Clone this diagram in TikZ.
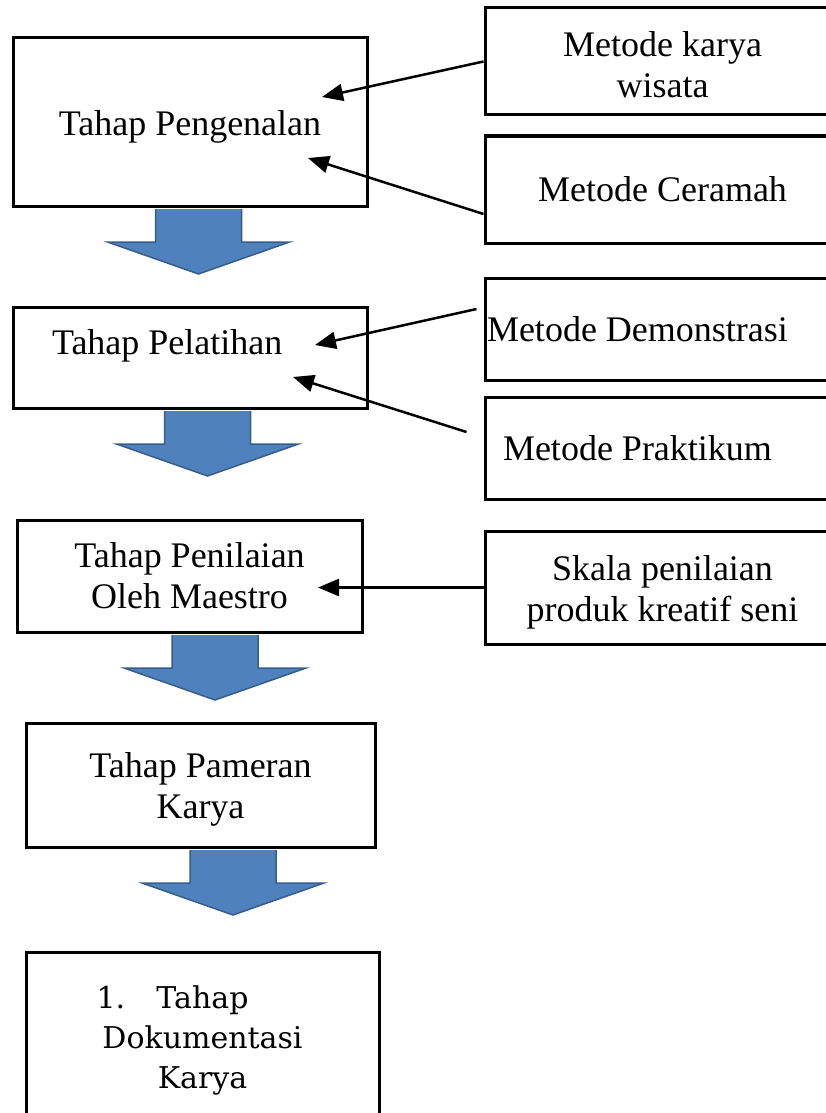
\documentclass[tikz,border=0pt]{standalone}
\usepackage{fontspec}
\setmainfont{Liberation Serif}
\newfontfamily\docfont{DejaVu Serif}
\usepackage{tikz}
\usetikzlibrary{positioning,arrows.meta,calc}
\usepackage{xcolor}
\definecolor{arrowblue}{HTML}{4F81BD}
\definecolor{arrowedge}{HTML}{385D8A}

\begin{document}
\begin{tikzpicture}[x=1pt,y=-1pt,>={Triangle[length=21pt,width=17pt]},
  stage/.style={draw,line width=3pt,inner sep=0pt,align=center,font=\fontsize{36}{41}\selectfont},
  link/.style={->,line width=2.5pt},
  downarrow/.pic={\draw[fill=arrowblue,draw=arrowedge,line width=1.5pt] (43,0) -- (43,33) -- (91,33) -- (0,65) -- (-91,33) -- (-43,33) -- (-43,0);}]
\useasboundingbox (0,0) rectangle (826,1113);
\clip (0,0) rectangle (826,1113);
% tahapan (kiri)
\node[stage,minimum width=354pt,minimum height=168pt,text height=34pt] (pengenalan) at (190,122) {Tahap Pengenalan};
\node[stage,minimum width=354pt,minimum height=101pt,text width=276pt,align=flush left,text depth=30pt] (pelatihan) at (190,357.5) {Tahap Pelatihan};
\node[stage,minimum width=345pt,minimum height=112pt] (penilaian) at (189.5,576) {Tahap Penilaian\\Oleh Maestro};
\node[stage,minimum width=349pt,minimum height=124pt,text height=74pt] (pameran) at (200.5,785) {Tahap Pameran\\Karya};
\node[stage,minimum width=353pt,minimum height=176pt,font=\docfont\fontsize{30}{40}\selectfont] (dokumentasi) at (202.5,1040) {\llap{\makebox[60pt][l]{1.}}Tahap\\Dokumentasi\\Karya};
% metode (kanan)
\node[stage,minimum width=355pt,minimum height=107pt,text height=73pt] (karya) at (662.5,61.5) {Metode karya\\wisata};
\node[stage,minimum width=355pt,minimum height=107pt] (ceramah) at (662.5,189.5) {Metode Ceramah};
\node[stage,minimum width=355pt,minimum height=102pt,text width=351pt,align=flush left] (demonstrasi) at (662.5,329) {Metode Demonstrasi};
\node[stage,minimum width=355pt,minimum height=102pt,text width=319pt,align=flush left] (praktikum) at (662.5,448) {Metode Praktikum};
\node[stage,minimum width=355pt,minimum height=113pt,text height=75pt] (skala) at (662.5,587.5) {Skala penilaian\\produk kreatif seni};
% panah biru
\pic at ($(pengenalan.south)+(8.5,1.5)$) {downarrow};
\pic at ($(pelatihan.south)+(17.5,1.5)$) {downarrow};
\pic at ($(penilaian.south)+(25.5,1.5)$) {downarrow};
\pic at ($(pameran.south)+(32.5,1.5)$) {downarrow};
% panah metode
\draw[link] (karya.west) -- ($(pengenalan.center)+(132,-25)$);
\draw[link] ($(ceramah.west)+(0,24.5)$) -- ($(pengenalan.center)+(118,36)$);
\draw[link] ($(demonstrasi.west)+(-7,-20)$) -- ($(pelatihan.center)+(125,-12.5)$);
\draw[link] ($(praktikum.west)+(-17,-16)$) -- ($(pelatihan.center)+(103,19.5)$);
\draw[link] (skala.west) -- ($(penilaian.center)+(128.5,11.5)$);
\end{tikzpicture}
\end{document}
